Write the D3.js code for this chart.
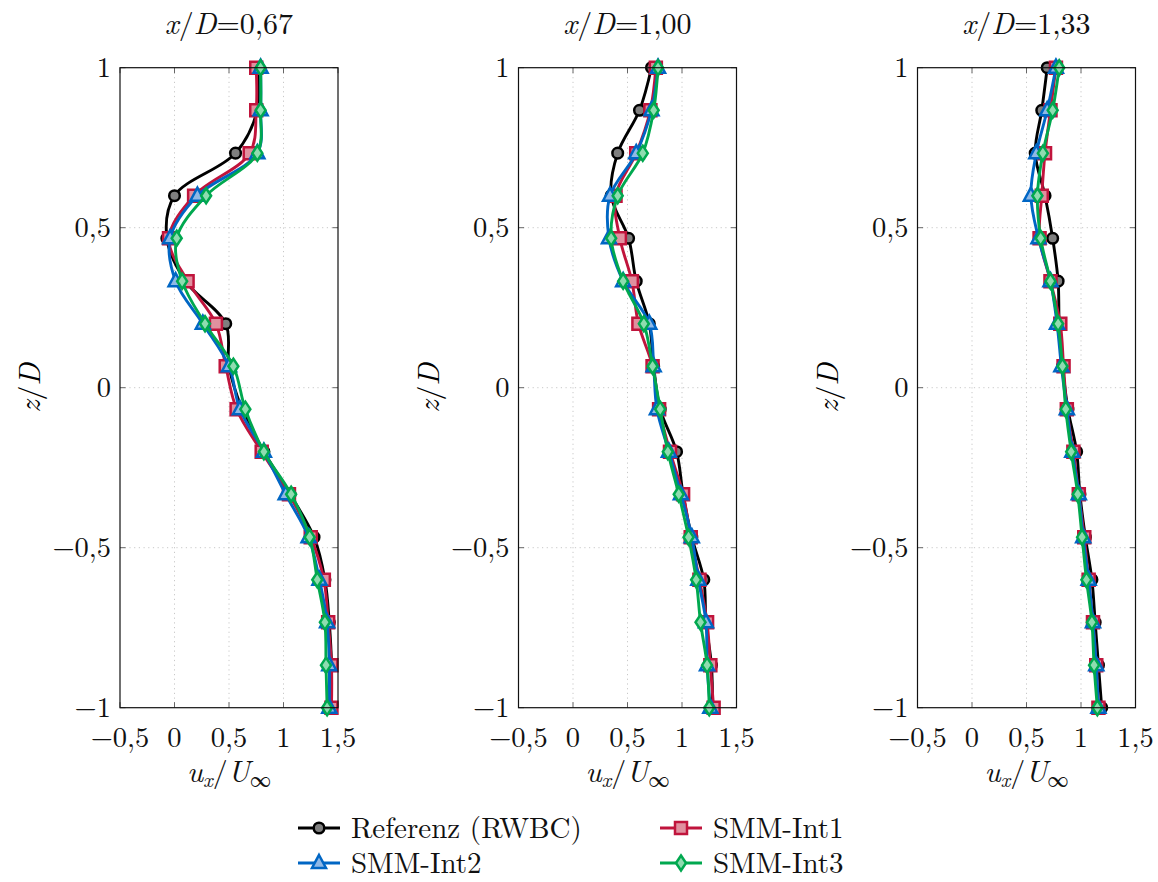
<!DOCTYPE html>
<html lang="de">
<head>
    <meta charset="UTF-8">
    <title>Geschwindigkeitsprofile</title>
    <script src="https://d3js.org/d3.v7.min.js"></script>
    <style>
        body { margin: 0; background: #fff; }
        .grid line { stroke: #c8c8c8; stroke-width: 1; stroke-dasharray: 1.2,3.5; }
        .tick-mark { stroke: #666; stroke-width: 1; }
        .frame { fill: none; stroke: #111; stroke-width: 1.2; }
        .series { fill: none; stroke-width: 2.9; stroke-linejoin: round; }
    </style>
</head>
<body>
<svg width="1158" height="882"></svg>
<script>
    // z/D levels of the measurement points
    const zLevels = [1, 0.867, 0.733, 0.6, 0.467, 0.333, 0.2, 0.067,
        -0.067, -0.2, -0.333, -0.467, -0.6, -0.733, -0.867, -1];

    const panelTitles = ["0,67", "1,00", "1,33"];
    const xTicks = [-0.5, 0, 0.5, 1, 1.5];
    const yTicks = [-1, -0.5, 0, 0.5, 1];

    // x/D = 0,67
    const ref067  = [0.77, 0.76, 0.56, 0.00, -0.07, 0.10, 0.47, 0.50, 0.62, 0.82, 1.06, 1.28, 1.38, 1.42, 1.44, 1.43];
    const int1067 = [0.75, 0.75, 0.69, 0.18, -0.05, 0.12, 0.38, 0.47, 0.57, 0.80, 1.05, 1.25, 1.37, 1.41, 1.44, 1.44];
    const int2067 = [0.79, 0.79, 0.76, 0.21, -0.04, 0.01, 0.26, 0.50, 0.60, 0.82, 1.02, 1.23, 1.33, 1.40, 1.42, 1.42];
    const int3067 = [0.79, 0.79, 0.76, 0.29, 0.02, 0.07, 0.28, 0.54, 0.65, 0.82, 1.07, 1.24, 1.31, 1.38, 1.39, 1.40];

    // x/D = 1,00
    const ref100  = [0.72, 0.61, 0.41, 0.35, 0.51, 0.58, 0.70, 0.74, 0.80, 0.95, 1.01, 1.09, 1.20, 1.22, 1.27, 1.28];
    const int1100 = [0.76, 0.71, 0.58, 0.39, 0.43, 0.54, 0.60, 0.73, 0.79, 0.89, 1.01, 1.08, 1.16, 1.23, 1.26, 1.29];
    const int2100 = [0.78, 0.72, 0.58, 0.34, 0.33, 0.46, 0.70, 0.74, 0.77, 0.88, 0.99, 1.09, 1.15, 1.22, 1.23, 1.26];
    const int3100 = [0.78, 0.74, 0.64, 0.41, 0.35, 0.46, 0.65, 0.73, 0.80, 0.87, 0.97, 1.06, 1.13, 1.17, 1.23, 1.25];

    // x/D = 1,33
    const ref133  = [0.69, 0.64, 0.58, 0.67, 0.74, 0.79, 0.80, 0.83, 0.88, 0.96, 0.99, 1.04, 1.10, 1.13, 1.16, 1.19];
    const int1133 = [0.77, 0.72, 0.67, 0.64, 0.62, 0.72, 0.81, 0.84, 0.87, 0.93, 0.98, 1.03, 1.07, 1.11, 1.14, 1.16];
    const int2133 = [0.77, 0.69, 0.59, 0.54, 0.61, 0.72, 0.78, 0.82, 0.87, 0.92, 0.98, 1.02, 1.07, 1.11, 1.14, 1.16];
    const int3133 = [0.80, 0.74, 0.65, 0.60, 0.63, 0.72, 0.79, 0.83, 0.86, 0.91, 0.97, 1.01, 1.05, 1.10, 1.12, 1.15];

    const seriesNames = ["Referenz (RWBC)", "SMM-Int1", "SMM-Int2", "SMM-Int3"];
    const panelData = [
        [ref067, int1067, int2067, int3067],
        [ref100, int1100, int2100, int3100],
        [ref133, int1133, int2133, int3133]
    ];

    const styles = [
        { stroke: "#000000", fill: "#7f7f7f", marker: "circle" },
        { stroke: "#c0143c", fill: "#e0909f", marker: "square" },
        { stroke: "#0066c4", fill: "#8fb8e6", marker: "triangle" },
        { stroke: "#00a84f", fill: "#8fdcb0", marker: "diamond" }
    ];

    const FONT = '"Latin Modern Roman", "CMU Serif", "Liberation Serif", serif';
    const FS = 28.5, FS_LABEL = 30, FS_LEGEND = 29;

    const svg = d3.select("svg").style("font-family", FONT);
    const panelLeft = [120, 518.5, 917.5];
    const plotW = 218, plotTop = 67.7, plotBottom = 707.7;

    const fmt = v => (v < 0 ? "\u2212" : "") + String(Math.abs(v)).replace(".", ",");

    function addText(g, x, y, size) {
        return g.append("text").attr("x", x).attr("y", y)
            .style("font-family", FONT).attr("font-size", size || FS).attr("fill", "#111");
    }

    function markerPath(type) {
        const p = d3.path();
        if (type === "square") { p.rect(-6, -6, 12, 12); }
        else if (type === "triangle") { p.moveTo(0, -8); p.lineTo(7, 5); p.lineTo(-7, 5); p.closePath(); }
        else if (type === "diamond") { p.moveTo(0, -7.5); p.lineTo(5, 0); p.lineTo(0, 7.5); p.lineTo(-5, 0); p.closePath(); }
        else { p.arc(0, 0, 5.3, 0, 2 * Math.PI); }
        return p.toString();
    }

    function drawMarker(g, x, y, st) {
        g.append("path")
            .attr("d", markerPath(st.marker))
            .attr("transform", `translate(${x},${y})`)
            .attr("fill", st.fill)
            .attr("stroke", st.stroke)
            .attr("stroke-width", 2.5)
            .attr("stroke-linejoin", "miter");
    }

    panelData.forEach((series, pi) => {
        const x = d3.scaleLinear().domain([-0.5, 1.5]).range([panelLeft[pi], panelLeft[pi] + plotW]);
        const y = d3.scaleLinear().domain([-1, 1]).range([plotBottom, plotTop]);
        const g = svg.append("g");

        // grid
        const grid = g.append("g").attr("class", "grid");
        grid.selectAll(".gx").data(xTicks.slice(1, -1)).enter().append("line")
            .attr("x1", d => x(d)).attr("x2", d => x(d)).attr("y1", plotTop).attr("y2", plotBottom);
        grid.selectAll(".gy").data(yTicks.slice(1, -1)).enter().append("line")
            .attr("x1", x.range()[0]).attr("x2", x.range()[1]).attr("y1", d => y(d)).attr("y2", d => y(d));

        // inner tick marks on all four sides
        xTicks.forEach(t => {
            g.append("line").attr("class", "tick-mark").attr("x1", x(t)).attr("x2", x(t)).attr("y1", plotBottom).attr("y2", plotBottom - 5.5);
            g.append("line").attr("class", "tick-mark").attr("x1", x(t)).attr("x2", x(t)).attr("y1", plotTop).attr("y2", plotTop + 5.5);
        });
        yTicks.forEach(t => {
            g.append("line").attr("class", "tick-mark").attr("x1", x.range()[0]).attr("x2", x.range()[0] + 5.5).attr("y1", y(t)).attr("y2", y(t));
            g.append("line").attr("class", "tick-mark").attr("x1", x.range()[1]).attr("x2", x.range()[1] - 5.5).attr("y1", y(t)).attr("y2", y(t));
        });

        // tick labels
        xTicks.forEach(t => {
            addText(g, x(t), plotBottom + 39).attr("text-anchor", "middle").text(fmt(t));
        });
        yTicks.forEach(t => {
            addText(g, x.range()[0] - 9, y(t) + 9).attr("text-anchor", "end").text(fmt(t));
        });

        // lines and markers
        const line = d3.line()
            .x(d => x(d[0])).y(d => y(d[1]))
            .curve(d3.curveCatmullRom.alpha(0.5));
        series.forEach((vals, si) => {
            const pts = vals.map((v, i) => [v, zLevels[i]]);
            g.append("path").attr("class", "series")
                .attr("d", line(pts)).attr("stroke", styles[si].stroke);
            pts.forEach(p => drawMarker(g, x(p[0]), y(p[1]), styles[si]));
        });

        g.append("rect").attr("class", "frame")
            .attr("x", x.range()[0]).attr("y", plotTop).attr("width", plotW).attr("height", plotBottom - plotTop);

        // title
        const cx = x.range()[0] + plotW / 2;
        const title = addText(g, cx, 34, FS_LABEL).attr("text-anchor", "middle");
        title.append("tspan").attr("font-style", "italic").text("x");
        title.append("tspan").text("/");
        title.append("tspan").attr("font-style", "italic").text("D");
        title.append("tspan").text("=" + panelTitles[pi]);

        // x-axis label
        const xl = addText(g, cx, 782, FS_LABEL).attr("text-anchor", "middle");
        xl.append("tspan").attr("font-style", "italic").text("u");
        xl.append("tspan").attr("font-style", "italic").attr("font-size", 21).attr("dy", 5).text("x");
        xl.append("tspan").attr("dy", -5).text("/");
        xl.append("tspan").attr("font-style", "italic").text("U");
        xl.append("tspan").attr("font-size", 21).attr("dy", 5).text("\u221E");

        // y-axis label
        const yl = g.append("text")
            .attr("transform", `translate(${x.range()[0] - 80},${y(0)}) rotate(-90)`)
            .attr("text-anchor", "middle").style("font-family", FONT).attr("font-size", FS_LABEL);
        yl.append("tspan").attr("font-style", "italic").text("z");
        yl.append("tspan").text("/");
        yl.append("tspan").attr("font-style", "italic").text("D");
    });

    // legend
    const legend = svg.append("g");
    const legPos = [[298, 828], [660, 828], [298, 863], [660, 863]];
    seriesNames.forEach((name, si) => {
        const [lx, ly] = legPos[si];
        legend.append("line").attr("x1", lx).attr("x2", lx + 42).attr("y1", ly).attr("y2", ly)
            .attr("stroke", styles[si].stroke).attr("stroke-width", 2.9);
        drawMarker(legend, lx + 21, ly, styles[si]);
        addText(legend, lx + 53, ly + 10, FS_LEGEND).text(name);
    });
</script>
</body>
</html>
